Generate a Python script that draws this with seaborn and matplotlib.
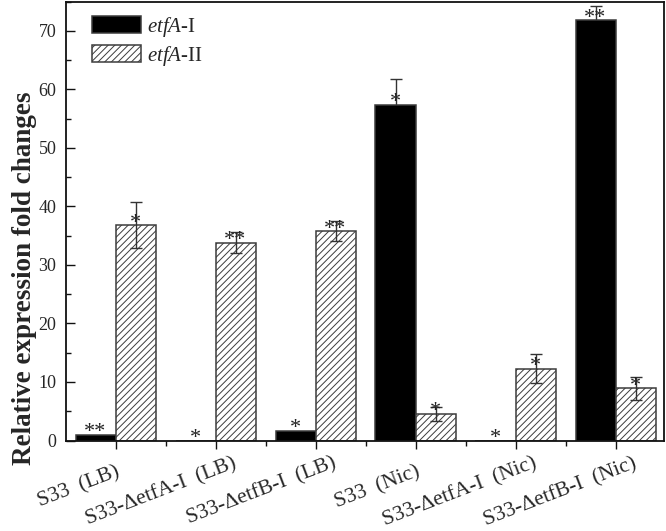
import numpy as np
import pandas as pd
import seaborn as sns
import matplotlib
matplotlib.use("Agg")
import matplotlib.pyplot as plt
from matplotlib.ticker import MultipleLocator, FixedLocator
from matplotlib.transforms import ScaledTranslation

# ---------------- data ----------------
groups = ["S33  (LB)", "S33-\u0394etfA-I  (LB)", "S33-\u0394etfB-I  (LB)",
          "S33  (Nic)", "S33-\u0394etfA-I  (Nic)", "S33-\u0394etfB-I  (Nic)"]
genes = ["etfA-I", "etfA-II"]
etfA_I = [1.0, 0.0, 1.7, 57.4, 0.0, 71.8]
etfA_I_err = [0.0, 0.0, 0.0, 4.3, 0.0, 2.4]
etfA_II = [36.8, 33.8, 35.8, 4.6, 12.3, 8.9]
etfA_II_err = [3.9, 1.8, 1.7, 1.2, 2.5, 1.9]
stars_I = ["**", "*", "*", "*", "*", "**"]
stars_II = ["*", "**", "**", "*", "*", "*"]
yticks = [0, 10, 20, 30, 40, 50, 60, 70]

df = pd.DataFrame({
    "group": groups * 2,
    "gene": [genes[0]] * len(groups) + [genes[1]] * len(groups),
    "value": etfA_I + etfA_II,
})

# ---------------- style ----------------
sns.set_theme(style="ticks")
plt.rcParams["font.family"] = ["Liberation Serif", "DejaVu Serif"]
plt.rcParams["mathtext.fontset"] = "custom"
plt.rcParams["mathtext.rm"] = "Liberation Serif"
plt.rcParams["mathtext.it"] = "Liberation Serif:italic"
plt.rcParams["hatch.linewidth"] = 0.7

fig = plt.figure(figsize=(6.66, 5.31), dpi=100)
ax = fig.add_axes([66 / 666, 1 - 440.5 / 531, 598 / 666, 439 / 531])

sns.barplot(data=df, x="group", y="value", hue="gene", order=groups,
            hue_order=genes, palette=["black", "white"], saturation=1,
            edgecolor="#3c3c3c", linewidth=1.1, errorbar=None, width=0.8,
            ax=ax, legend=False)

cont_I, cont_II = ax.containers[0], ax.containers[1]
for p in cont_II.patches:
    p.set_hatch("/////")

# error bars (behind the solid bars, in front of the hatched ones)
for cont, vals, errs, z in [(cont_I, etfA_I, etfA_I_err, 0.5),
                            (cont_II, etfA_II, etfA_II_err, 5)]:
    for p, v, e in zip(cont.patches, vals, errs):
        if e > 0:
            ax.errorbar(p.get_x() + p.get_width() / 2, v, yerr=e, fmt="none",
                        ecolor="#333333", elinewidth=1.0, capsize=4.6,
                        capthick=1.0, zorder=z)

# significance stars
for cont, vals, stars in [(cont_I, etfA_I, stars_I), (cont_II, etfA_II, stars_II)]:
    for p, v, s in zip(cont.patches, vals, stars):
        ax.annotate(s, (p.get_x() + p.get_width() / 2, v), xytext=(0, -2),
                    textcoords="offset points", ha="center", va="baseline",
                    fontsize=16, color="#222222", zorder=6)

ax.set_xlim(-0.495, 5.485)
ax.set_ylim(0, 75)

for sp in ax.spines.values():
    sp.set_visible(True)
    sp.set_linewidth(1.3)
    sp.set_color("#111111")

ax.yaxis.set_major_locator(FixedLocator(yticks))
ax.yaxis.set_minor_locator(MultipleLocator(5))
ax.tick_params(axis="y", which="major", direction="in", length=6.5, width=1.0,
               labelsize=13, pad=7, color="#111111")
ax.tick_params(axis="y", which="minor", direction="in", length=3.5, width=1.0,
               color="#111111")
ax.xaxis.set_minor_locator(FixedLocator([0.5, 1.5, 2.5, 3.5, 4.5]))
ax.tick_params(axis="x", which="major", direction="out", length=6, width=1.0,
               labelsize=15.5, pad=10, color="#111111")
ax.tick_params(axis="x", which="minor", direction="out", length=3.5, width=1.0,
               color="#111111")

ax.set_xlabel("")
ax.set_xticks(range(len(groups)))
ax.set_xticklabels(groups, rotation=21, ha="right", va="top",
                   rotation_mode="anchor")
for lab in ax.get_xticklabels():
    if "\u0394" in lab.get_text():
        lab.set_transform(lab.get_transform() +
                          ScaledTranslation(17 / 100, 9 / 100, fig.dpi_scale_trans))

ax.set_ylabel("Relative expression fold changes", fontsize=19.5,
              fontweight="bold")
ax.yaxis.set_label_coords(-0.048, 0.37)

ax.legend(handles=[cont_I.patches[0], cont_II.patches[0]],
          labels=[r"$\it{etfA}$-I", r"$\it{etfA}$-II"],
          loc="upper left", bbox_to_anchor=(0.043, 0.97), frameon=False,
          fontsize=15, handlelength=2.35, handleheight=0.9,
          handletextpad=0.3, labelspacing=0.25, borderpad=0,
          borderaxespad=0)

fig.savefig("out.png", dpi=100)
